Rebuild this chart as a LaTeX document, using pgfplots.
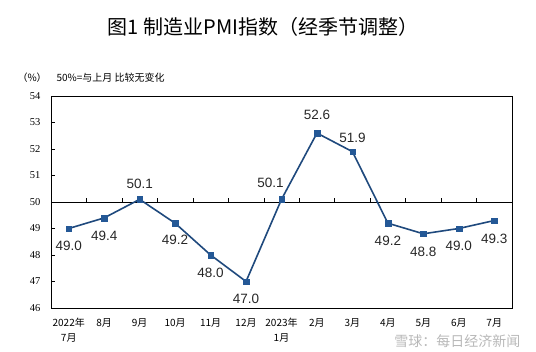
\documentclass[border=0pt]{standalone}
\usepackage{fontspec}
\setmainfont{Liberation Sans}
\newfontfamily\cjk{Noto Sans CJK SC}
\newfontfamily\serifdig{Liberation Serif}
\usepackage{pgfplots}
\usepackage{pgfplotstable}
\pgfplotsset{compat=1.18}
\definecolor{linec}{RGB}{31,73,125}
\definecolor{markc}{RGB}{36,88,150}
\pgfplotstableread{
x y dy dx
0 49.0 -17 0
1 49.4 -18 0
2 50.1 15 0
3 49.2 -17 0
4 48.0 -18 0
5 47.0 -17 0
6 50.1 16 -11
7 52.6 18 0
8 51.9 14 0
9 49.2 -18 0
10 48.8 -18 0
11 49.0 -17 0
12 49.3 -18 0
}\pmidata
\begin{document}
\begin{tikzpicture}[x=1pt,y=1pt]
\path[use as bounding box] (0,0) rectangle (536,352);
\node[font=\cjk\fontsize{20}{24}\selectfont] at (263,325) {图1 制造业PMI指数（经季节调整）};
\node[font=\cjk\fontsize{10}{12}\selectfont, anchor=west] at (14,274) {（\%）};
\node[font=\cjk\fontsize{10}{12}\selectfont, anchor=west] at (53,274) {50\%=与上月 比较无变化};
\node[font=\cjk\fontsize{14}{16}\selectfont, text=black!28, anchor=east] at (524,11) {雪球：每日经济新闻};
\begin{axis}[at={(51pt,44pt)}, anchor=south west, scale only axis,
  width=461pt, height=212pt,
  xmin=-0.5, xmax=12.5, ymin=46, ymax=54,
  ytick={46,...,54}, xtick={0,...,12},
  xticklabels={{2022年\\7月},8月,9月,10月,11月,12月,{2023年\\1月},2月,3月,4月,5月,6月,7月},
  axis line style={black, line width=0.8pt},
  ytick pos=left, tick align=inside, major tick length=4pt,
  y tick style={black, line width=0.6pt},
  x tick style={draw=none},
  y tick label style={font=\serifdig\fontsize{10.5}{11}\selectfont, xshift=-7pt},
  x tick label style={font=\cjk\fontsize{10}{15}\selectfont, align=center, anchor=north, yshift=-7pt},
  /pgf/number format/assume math mode=true,
  clip=false,
  visualization depends on={\thisrow{dy} \as \dy},
  visualization depends on={\thisrow{dx} \as \dx},
]
\draw[black, line width=0.7pt] (axis cs:-0.5,50) -- (axis cs:12.5,50);
\pgfplotsinvokeforeach{0,...,11}{
  \draw[black, line width=0.5pt] (axis cs:#1+0.5,50) -- ++(0pt,4pt);
}
\addplot[linec, line width=1.6pt, mark=square*, mark size=2.8pt,
  mark options={fill=markc, draw=markc, line width=0.2pt},
  nodes near coords, point meta=explicit symbolic,
  every node near coord/.append style={font=\fontsize{13.5}{15}\selectfont, text=black!85, anchor=center, yshift=\dy pt, xshift=\dx pt}]
  table[x=x, y=y, meta=y] {\pmidata};
\end{axis}
\end{tikzpicture}
\end{document}
